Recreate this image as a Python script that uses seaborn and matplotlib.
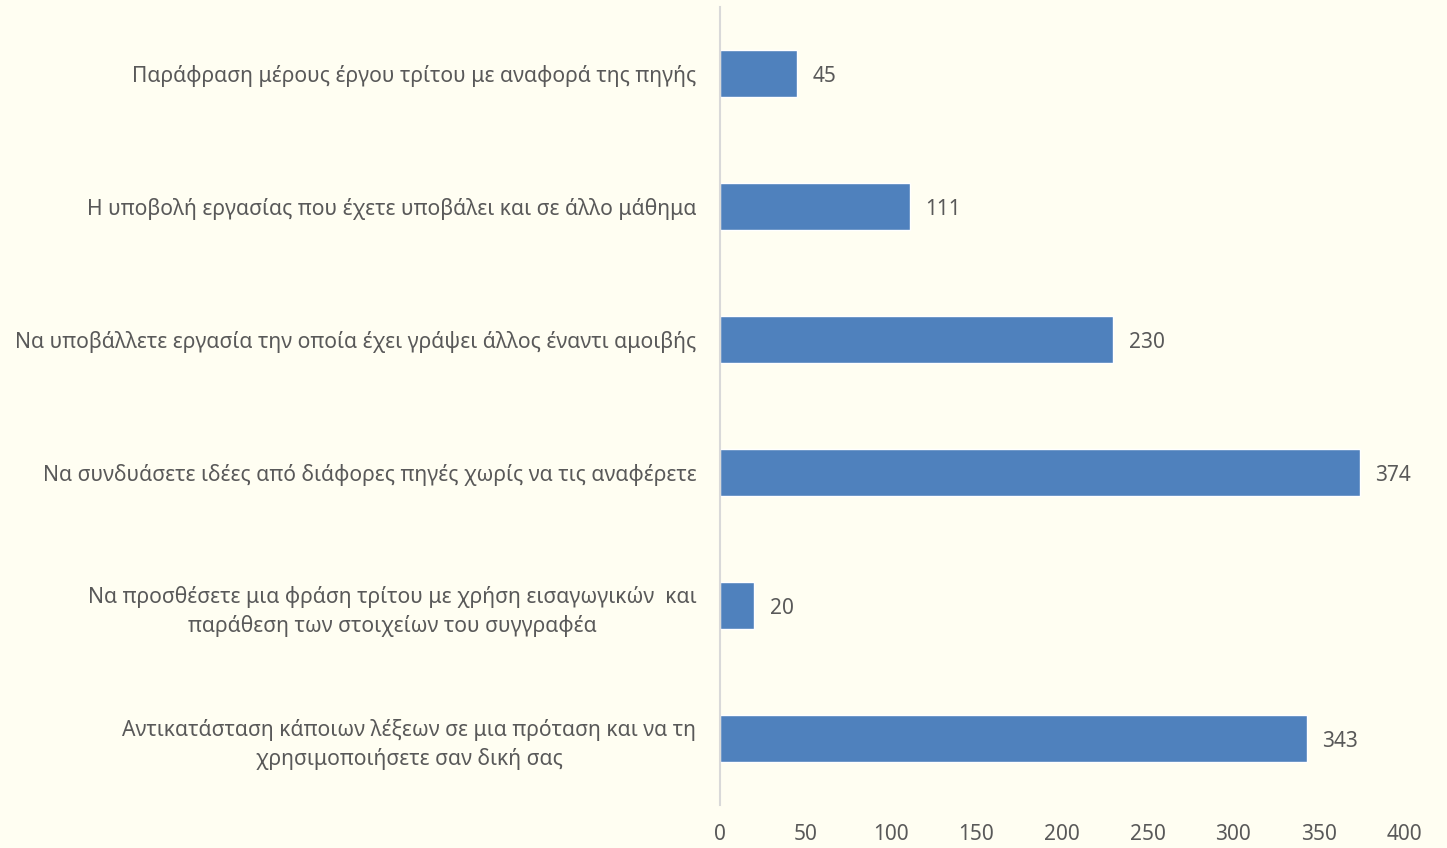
# horizontal bar chart of responses

import matplotlib
matplotlib.use('Agg')
import matplotlib.pyplot as plt
import pandas as pd
import seaborn as sb

categories = [
    'Παράφραση μέρους έργου τρίτου με αναφορά της πηγής',
    'Η υποβολή εργασίας που έχετε υποβάλει και σε άλλο μάθημα',
    'Να υποβάλλετε εργασία την οποία έχει γράψει άλλος έναντι αμοιβής',
    'Να συνδυάσετε ιδέες από διάφορες πηγές χωρίς να τις αναφέρετε',
    'Να προσθέσετε μια φράση τρίτου με χρήση εισαγωγικών  και\nπαράθεση των στοιχείων του συγγραφέα',
    'Αντικατάσταση κάποιων λέξεων σε μια πρόταση και να τη\nχρησιμοποιήσετε σαν δική σας',
]
values = [45, 111, 230, 374, 20, 343]
xticks = [0, 50, 100, 150, 200, 250, 300, 350, 400]

bg = '#FFFEF2'
txt = '#595959'

sb.set_style('white')
plt.rcParams['font.family'] = ['Noto Sans', 'DejaVu Sans']

data = pd.DataFrame({'label': categories, 'value': values})

fig = plt.figure(figsize=(14.47, 8.48), dpi=100, facecolor=bg)
ax = fig.add_axes([0.4976, 0.0507, 0.4727, 0.941])
ax.set_facecolor(bg)

sb.barplot(data=data, x='value', y='label', color='#4F81BD', saturation=1,
           width=0.35, ax=ax)

# value labels right of each bar
for i, v in enumerate(values):
    ax.annotate(str(v), (v, i), xytext=(11, -2), textcoords='offset points',
                va='center', ha='left', fontsize=15, color=txt)

ax.set_xlim(0, 400)
ax.set_ylim(5.5, -0.5)
ax.set_xticks(xticks)
ax.set_xlabel('')
ax.set_ylabel('')
ax.tick_params(axis='x', length=0, pad=14, labelsize=15, labelcolor=txt)
ax.tick_params(axis='y', length=0, pad=17, labelsize=15.2, labelcolor=txt)
for lab in ax.get_yticklabels():
    lab.set_multialignment('center')
    lab.set_linespacing(1.4)

for s in ['top', 'right', 'bottom']:
    ax.spines[s].set_visible(False)
ax.spines['left'].set_color('#D9D9D9')
ax.spines['left'].set_linewidth(1.5)

plt.savefig('out.png', dpi=100, facecolor=bg)
